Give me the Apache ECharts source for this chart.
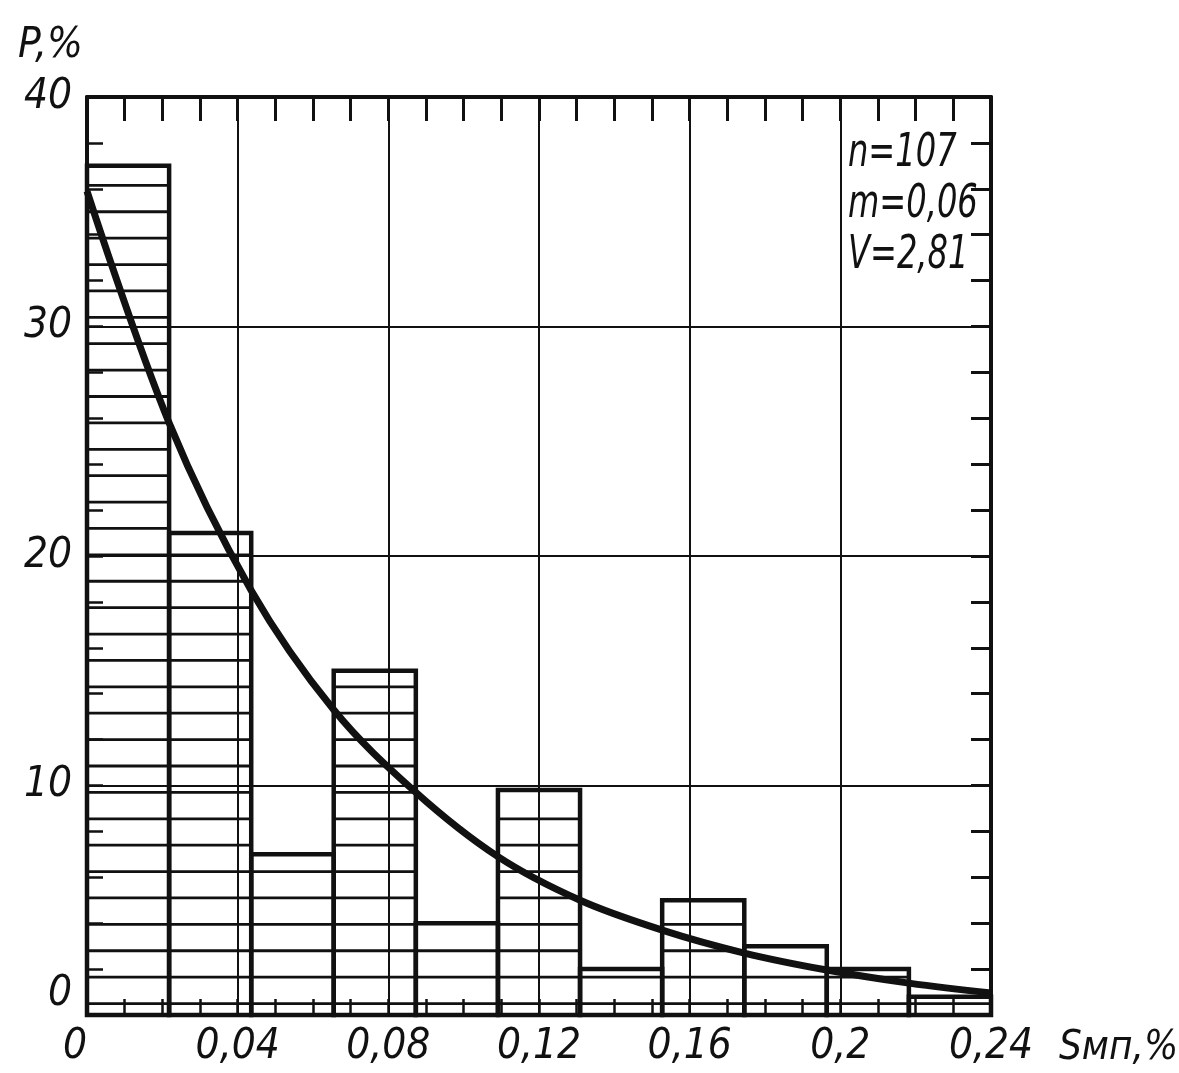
<!DOCTYPE html>
<html>
<head>
<meta charset="utf-8">
<script src="https://cdn.jsdelivr.net/npm/echarts@6/dist/echarts.min.js"></script>
<style>
  html, body { margin: 0; padding: 0; background: #fff; }
  #chart { width: 1179px; height: 1073px; }
</style>
</head>
<body>
<div id="chart"></div>
<script>
// Histogram of S_мп (%) with the fitted distribution curve
const binEdges = [0, 0.0218, 0.0436, 0.0655, 0.0873, 0.1091, 0.1309, 0.1527, 0.1745, 0.1964, 0.2182, 0.24];
const binShares = [37, 21, 7, 15, 4, 9.8, 2, 5, 3, 2, 0.8];

// Fitted curve, read at the bin edges
const curveX = [0, 0.0218, 0.0436, 0.0655, 0.0873, 0.1091, 0.1309, 0.1527, 0.1745, 0.1964, 0.2182, 0.24];
const curveP = [35.9, 25.8, 18.5, 13.3, 9.7, 6.9, 5.0, 3.7, 2.7, 1.96, 1.39, 0.96];

const statsLines = ['n=107', 'm=0,06', 'V=2,81'];

const INK = '#111';
const FONT = "'Liberation Sans Narrow', 'DejaVu Sans Condensed', 'Liberation Sans', sans-serif";
const HATCH_STEP = 1.15;   // spacing of hatch lines, in % units
const HATCH_START = 0.5;

const histData = binShares.map((h, i) => [binEdges[i], binEdges[i + 1], h]);
const curveData = curveX.map((x, i) => [x, curveP[i]]);

const fmtX = v => (v === 0 ? '0' : String(+v.toFixed(2)).replace('.', ','));
const labelFont = { color: INK, fontFamily: FONT, fontStyle: 'italic', fontSize: 42 };

// helper: an axis that only carries inward tick marks
const tickAxis = (position, max, interval, length, width, withLine) => ({
  type: 'value', position, min: 0, max, interval,
  axisLine: { show: withLine, onZero: false, lineStyle: { color: INK, width: 4 } },
  axisTick: { show: true, inside: true, length, lineStyle: { color: INK, width } },
  axisLabel: { show: false },
  splitLine: { show: false }
});

const chart = echarts.init(document.getElementById('chart'), null, { renderer: 'canvas' });

chart.setOption({
  backgroundColor: '#fff',
  animation: false,
  grid: { left: 87, right: 188, top: 97, bottom: 58, containLabel: false, outerBoundsMode: 'none' },
  xAxis: [
    {
      type: 'value', position: 'bottom', min: 0, max: 0.24, interval: 0.04,
      name: 'Sмп,%', nameLocation: 'end', nameGap: 68,
      nameTextStyle: Object.assign({}, labelFont, { fontSize: 40, verticalAlign: 'top', align: 'left', padding: [14, 0, 0, 0] }),
      axisLine: { show: true, onZero: false, lineStyle: { color: INK, width: 4 } },
      axisTick: { show: false },
      axisLabel: Object.assign({}, labelFont, { margin: 11, formatter: fmtX, alignMinLabel: 'right' }),
      splitLine: { show: true, lineStyle: { color: INK, width: 2 } }
    },
    tickAxis('bottom', 0.24, 0.01, 16, 2.5, false),
    tickAxis('top', 0.24, 0.01, 24, 3, true)
  ],
  yAxis: [
    {
      type: 'value', position: 'left', min: 0, max: 40, interval: 10,
      name: 'P,%', nameLocation: 'end', nameGap: 30,
      nameTextStyle: Object.assign({}, labelFont, { align: 'right', padding: [0, 4, 0, 0] }),
      axisLine: { show: true, onZero: false, lineStyle: { color: INK, width: 4 } },
      axisTick: { show: false },
      axisLabel: Object.assign({}, labelFont, { margin: 15, padding: [10, 0, 0, 0], verticalAlignMinLabel: 'bottom' }),
      splitLine: { show: true, lineStyle: { color: INK, width: 2 } }
    },
    tickAxis('left', 40, 2, 16, 2.5, false),
    tickAxis('right', 40, 2, 20, 3, true)
  ],
  graphic: statsLines.map((t, i) => ({
    type: 'text', x: 848, y: 130 + i * 51, scaleX: 0.76, silent: true,
    style: { text: t, fill: INK, font: `italic 47px ${FONT}` }
  })),
  series: [
    {
      type: 'custom', name: 'P', xAxisIndex: 0, yAxisIndex: 0,
      data: histData,
      encode: { x: [0, 1], y: 2 },
      renderItem: (params, api) => {
        const x0 = api.value(0), x1 = api.value(1), h = api.value(2);
        const pBase = api.coord([x0, 0]);
        const pTop = api.coord([x1, h]);
        const children = [];
        for (let v = HATCH_START; v < h - 0.25; v += HATCH_STEP) {
          const a = api.coord([x0, v]), b = api.coord([x1, v]);
          children.push({
            type: 'line', shape: { x1: a[0], y1: a[1], x2: b[0], y2: b[1] },
            style: { stroke: INK, lineWidth: 2.8 }
          });
        }
        children.push({
          type: 'rect',
          shape: { x: pBase[0], y: pTop[1], width: pTop[0] - pBase[0], height: pBase[1] - pTop[1] },
          style: { fill: null, stroke: INK, lineWidth: 4.5 }
        });
        return { type: 'group', children };
      },
      z: 3
    },
    {
      type: 'line', name: 'fit', xAxisIndex: 0, yAxisIndex: 0,
      data: curveData, smooth: 0.35, symbol: 'none',
      lineStyle: { color: INK, width: 7 },
      z: 4
    }
  ]
});
</script>
</body>
</html>
